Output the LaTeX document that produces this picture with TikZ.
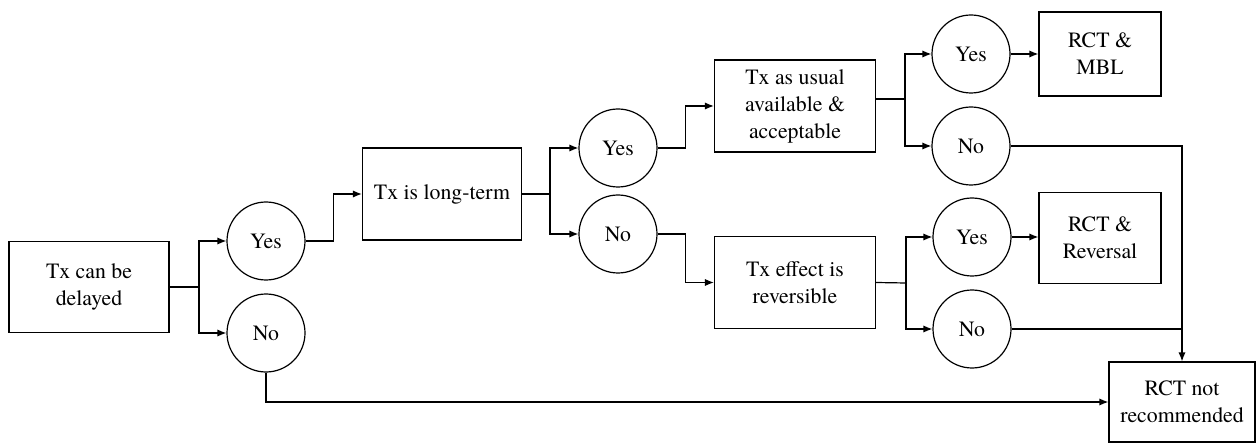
\documentclass[tikz,border=0pt]{standalone}
\usepackage{fontspec}
\setmainfont{texgyretermes}[Extension=.otf,UprightFont=*-regular]
\usetikzlibrary{arrows.meta}

\begin{document}
\begin{tikzpicture}[x=0.5pt,y=-0.5pt,
    box/.style={draw,line width=0.6pt,align=center,inner sep=2pt,
      font=\fontsize{10.9}{13.5}\selectfont},
    ans/.style={draw,circle,line width=0.6pt,minimum size=39pt,inner sep=0pt,
      font=\fontsize{10.9}{13.5}\selectfont},
    link/.style={line width=0.6pt},
    arr/.style={link,-{Latex[length=4.5pt,width=3.6pt]}}]
    \useasboundingbox (0,0) rectangle (1258,443);
    % questions
    \node[box,minimum width=80pt,minimum height=45.5pt] (delay) at (89,287) {Tx can be\\delayed};
    \node[box,minimum width=79.5pt,minimum height=46pt] (long) at (442,194) {Tx is long-term};
    \node[box,minimum width=80.5pt,minimum height=46pt] (usual) at (795,106) {Tx as usual\\available \&\\acceptable};
    \node[box,minimum width=80.5pt,minimum height=46pt] (revers) at (795,282.5) {Tx effect is\\reversible};
    % answers
    \node[ans] (yes1) at (266,241) {Yes};
    \node[ans] (no1) at (266,333) {No};
    \node[ans] (yes2) at (618,148) {Yes};
    \node[ans] (no2) at (618,234) {No};
    \node[ans] (yes3) at (971,54) {Yes};
    \node[ans] (no3) at (971,146) {No};
    \node[ans] (yes4) at (972,237) {Yes};
    \node[ans] (no4) at (972,329) {No};
    % outcomes
    \node[box,minimum width=61pt,minimum height=42pt] (mbl) at (1100,54) {RCT \&\\MBL};
    \node[box,minimum width=61pt,minimum height=45.5pt] (reversal) at (1100,238) {RCT \&\\Reversal};
    \node[box,minimum width=73pt,minimum height=40pt] (notrec) at (1182,402) {RCT not\\recommended};
    % branch points
    \coordinate (j1) at (199,287);
    \coordinate (j2) at (550,194);
    \coordinate (j3) at (905,99);
    \coordinate (j4) at (906,283);
    \draw[link] (delay.east) -- (j1);
    \draw[arr] (j1) |- (yes1.west);
    \draw[arr] (j1) |- (no1.west);
    \draw[arr] (yes1.east) -- ++(28,0) |- (long.west);
    \draw[arr] (no1.south) |- (notrec.west);
    \draw[link] (long.east) -- (j2);
    \draw[arr] (j2) |- (yes2.west);
    \draw[arr] (j2) |- (no2.west);
    \draw[arr] (yes2.east) -- ++(28,0) |- (usual.west);
    \draw[arr] (no2.east) -- ++(28,0) |- (revers.west);
    \draw[link] (usual.east |- j3) -- (j3);
    \draw[arr] (j3) |- (yes3.west);
    \draw[arr] (j3) |- (no3.west);
    \draw[arr] (yes3.east) -- (mbl.west);
    \draw[arr] (no3.east) -| (notrec.north);
    \draw[link] (revers.east) -- (j4);
    \draw[arr] (j4) |- (yes4.west);
    \draw[arr] (j4) |- (no4.west);
    \draw[arr] (yes4.east) -- (yes4.east -| reversal.west);
    \draw[link] (no4.east) -- (no4.east -| notrec.north);
\end{tikzpicture}
\end{document}
